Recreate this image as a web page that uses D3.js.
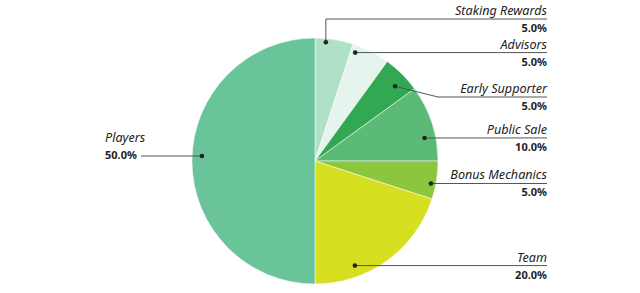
<!DOCTYPE html>
<html>
<head>
<meta charset="utf-8">
<script src="https://cdn.jsdelivr.net/npm/d3@7"></script>
<style>
  body { margin: 0; background: #fff; }
  text { font-family: "Noto Sans", sans-serif; fill: #222; }
  .lbl { font-style: italic; font-size: 12.6px; }
  .pct { font-weight: 700; font-size: 11px; }
</style>
</head>
<body>
<div id="chart"></div>
<script>
// Token allocation, clockwise from 12 o'clock
let categories = ['Staking Rewards', 'Advisors', 'Early Supporter', 'Public Sale', 'Bonus Mechanics', 'Team', 'Players'];
let shares = [5, 5, 5, 10, 5, 20, 50];
let colors = ['#b1e0c9', '#e5f5ed', '#33a852', '#5cba79', '#8cc63f', '#d7df21', '#6ac49a'];

let width = 640;
let height = 293;
let cx = 315, cy = 161, R = 123;
let textRight = 547; // right edge of the label column

// where the leader dot sits inside each slice: [fraction along slice, fraction of radius]
let dotPlace = [[0.29, 0.97], [0.13, 0.94], [0.61, 0.89], [0.67, 0.91], [0.61, 0.96], [0.71, 0.91], [0.514, 0.92]];

let svg = d3.select('#chart').append('svg')
    .attr('width', width)
    .attr('height', height);

let data = categories.map((c, i) => ({ name: c, value: shares[i], color: colors[i], idx: i }));

let pie = d3.pie().sort(null).value(d => d.value);
let arcs = pie(data);
let arc = d3.arc().innerRadius(0).outerRadius(R);

let g = svg.append('g').attr('transform', `translate(${cx}, ${cy})`);

g.selectAll('path').data(arcs).enter().append('path')
    .attr('d', arc)
    .attr('fill', d => d.data.color)
    .attr('stroke', '#fff')
    .attr('stroke-width', 0.5);

// Dot position for a slice
function dotPos(a) {
  let p = dotPlace[a.data.idx];
  let ang = a.startAngle + (a.endAngle - a.startAngle) * p[0];
  let r = R * p[1];
  return [cx + r * Math.sin(ang), cy - r * Math.cos(ang)];
}

let labels = svg.append('g');

arcs.forEach(a => {
  let [x, y] = dotPos(a);
  let name = a.data.name;
  let pct = a.data.value.toFixed(1) + '%';

  if(name === 'Players') {
    // label sits to the left of the pie
    let tx = 105;
    labels.append('text').attr('class', 'lbl').attr('x', tx).attr('y', y - 14).text(name);
    let t = labels.append('text').attr('class', 'pct').attr('x', tx).attr('y', y + 3).text(pct);
    let w = t.node().getComputedTextLength();
    labels.append('line')
        .attr('x1', tx + w + 4).attr('x2', x).attr('y1', y).attr('y2', y)
        .attr('stroke', '#555').attr('stroke-width', 1);
  } else {
    let lineY = y;
    let pts;
    if(name === 'Staking Rewards') {
      lineY = 19;
      pts = [[x, y], [x, lineY], [textRight, lineY]];
    } else if(name === 'Early Supporter') {
      lineY = 97;
      pts = [[x, y], [x + 43, lineY], [textRight, lineY]];
    } else {
      pts = [[x, y], [textRight, lineY]];
    }
    labels.append('path')
        .attr('d', d3.line()(pts))
        .attr('fill', 'none')
        .attr('stroke', '#555')
        .attr('stroke-width', 1);
    labels.append('text').attr('class', 'lbl')
        .attr('x', textRight).attr('y', lineY - 4)
        .attr('text-anchor', 'end').text(name);
    labels.append('text').attr('class', 'pct')
        .attr('x', textRight).attr('y', lineY + 13)
        .attr('text-anchor', 'end').text(pct);
  }

  labels.append('circle')
      .attr('cx', x).attr('cy', y).attr('r', 2.3)
      .attr('fill', '#222');
});
</script>
</body>
</html>
